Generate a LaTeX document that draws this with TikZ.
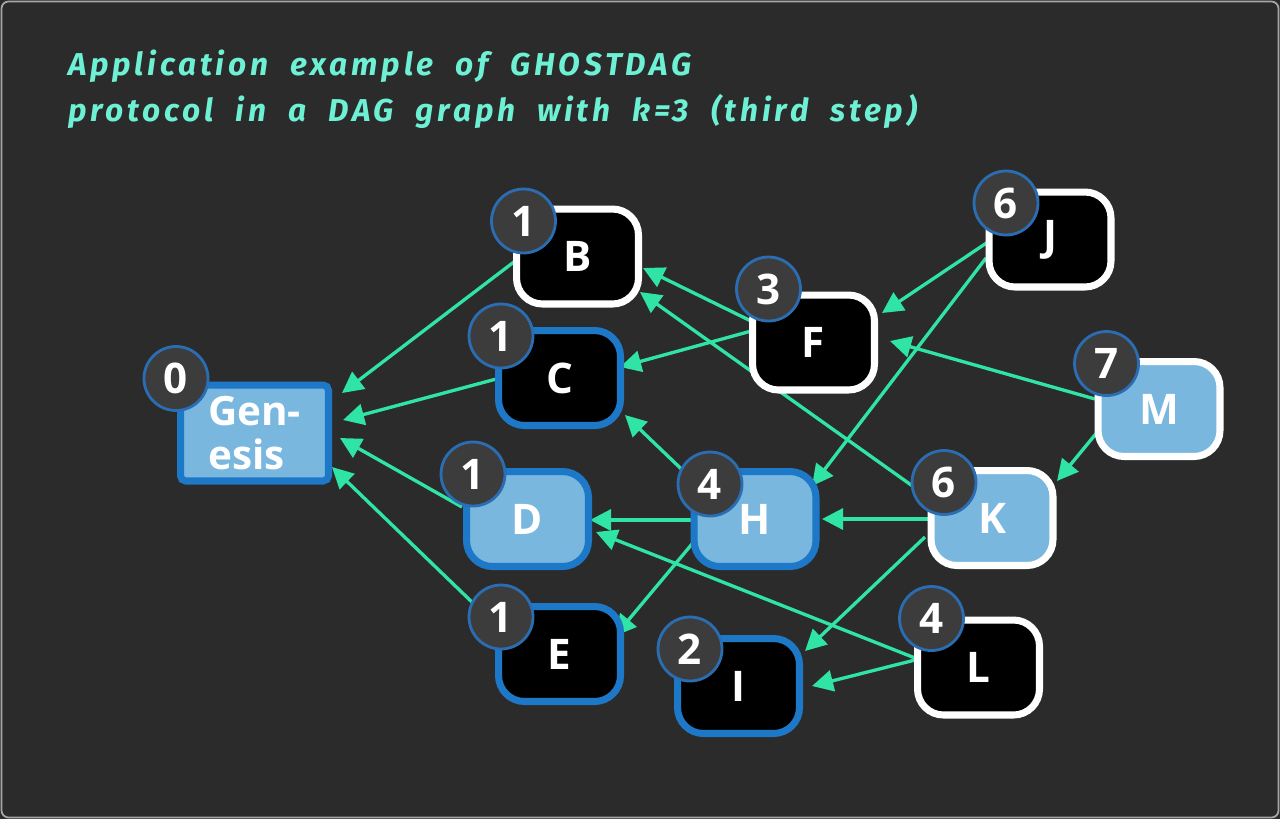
\documentclass[tikz,border=0pt]{standalone}
\usepackage{fontspec}
\setmainfont{Open Sans}
\newfontfamily\titlefont[LetterSpace=12,WordSpace=2.0]{Fira Sans}
\usetikzlibrary{calc,arrows.meta}
\definecolor{panel}{HTML}{2B2B2B}
\definecolor{mint}{HTML}{6EF0D4}
\definecolor{edgegreen}{HTML}{2FE4A4}
\definecolor{skyfill}{HTML}{79B7DF}
\definecolor{blueline}{HTML}{1E78C8}
\definecolor{badgefill}{HTML}{3C3C3C}
\definecolor{badgeline}{HTML}{2B6DB2}
\pgfdeclarelayer{bg}
\pgfdeclarelayer{edges}
\pgfsetlayers{bg,edges,main}
\tikzset{
	block/.style={draw, line width=4pt, rounded corners=0.52cm, minimum width=2.44cm, minimum height=1.9cm, text=white, font=\bfseries\fontsize{24}{27}\selectfont},
	blackwhite/.style={block, fill=black, draw=white},
	blackblue/.style={block, fill=black, draw=blueline},
	skyblue/.style={block, fill=skyfill, draw=blueline},
	skywhite/.style={block, fill=skyfill, draw=white},
	badge/.style={circle, draw=badgeline, line width=1.6pt, fill=badgefill, minimum size=1.28cm, inner sep=0pt, text=white, font=\bfseries\fontsize{24}{27}\selectfont},
	arr/.style={draw=edgegreen, line width=1.9pt, -{Triangle[length=12pt,width=12pt]}},
	headline/.style={anchor=base west, inner sep=0pt, text=mint, font=\titlefont\bfseries\itshape\fontsize{18}{21}\selectfont}
}

\begin{document}
\begin{tikzpicture}[x=0.02cm, y=-0.02cm]
			%%%%% START %%%%%
			\useasboundingbox (0, 0) rectangle (1280, 819);
			\begin{pgfonlayer}{bg}
				\fill[panel] (0, 0) rectangle (1280, 819);
				\draw[gray!70, line width=1pt, rounded corners=4pt] (1.5, 1.5) rectangle (1278.5, 817.5);
			\end{pgfonlayer}
			
			\node[headline] (title1) at (68, 75) {Application example of GHOSTDAG};
			\node[headline] (title2) at (68, 121) {protocol in a DAG graph with k=3 (third step)};
			
			\node[skyblue, rounded corners=3pt, minimum width=2.96cm, minimum height=1.92cm, align=left, font=\bfseries\fontsize{23}{25}\selectfont] (gen) at (254.5, 433) {Gen-\\esis};
			\node[blackwhite] (B) at (577.5, 256.5) {B};
			\node[blackblue] (C) at (559.5, 378) {C};
			\node[skyblue] (D) at (527.5, 519) {D};
			\node[blackblue] (E) at (559.5, 654) {E};
			\node[blackwhite] (F) at (813.5, 342.5) {F};
			\node[skyblue] (H) at (755, 519) {H};
			\node[blackblue] (I) at (738.5, 686) {I};
			\node[blackwhite] (J) at (1050, 239.5) {J};
			\node[skywhite] (K) at (992, 518) {K};
			\node[blackwhite] (L) at (978.5, 667.5) {L};
			\node[skywhite] (M) at (1159, 409) {M};
			
			\node[badge] (b0) at (176, 378.5) {0};
			\node[badge] (bB) at (523.5, 221) {1};
			\node[badge] (bC) at (501, 336) {1};
			\node[badge] (bD) at (473, 474) {1};
			\node[badge] (bE) at (501, 617) {1};
			\node[badge] (bF) at (768.5, 289) {3};
			\node[badge] (bH) at (710, 484) {4};
			\node[badge] (bI) at (690, 649) {2};
			\node[badge] (bJ) at (1006, 203) {6};
			\node[badge] (bK) at (944, 482.5) {6};
			\node[badge] (bL) at (931.5, 618.5) {4};
			\node[badge] (bM) at (1106.5, 363.5) {7};
			
			\begin{pgfonlayer}{edges}
				\draw[arr] ($(B)+(-63, 5)$) -- ($(gen)+(87.5, -40)$);
				\draw[arr] ($(C)+(-59.5, 0)$) -- ($(gen)+(88.5, -13)$);
				\draw[arr] ($(D)+(-65.5, -12)$) -- ($(gen)+(85.5, 5)$);
				\draw[arr] ($(E)+(-85.5, -50)$) -- ($(gen)+(77.5, 34)$);
				\draw[arr] ($(F)+(-60.5, -20.5)$) -- ($(B)+(65.5, 11.5)$);
				\draw[arr] ($(F)+(-58.5, -12.5)$) -- ($(C)+(60.5, -11)$);
				\draw[arr] ($(K)+(-64, -21)$) -- ($(B)+(62.5, 35.5)$);
				\draw[arr] ($(H)+(-58, -35)$) -- ($(C)+(65.5, 37)$);
				\draw[arr] ($(H)+(-61, 1)$) -- ($(D)+(62.5, 1)$);
				\draw[arr] ($(H)+(-58, 19)$) -- ($(E)+(55.5, -18)$);
				\draw[arr] ($(K)+(-64, 1)$) -- ($(H)+(67, 0)$);
				\draw[arr] ($(J)+(-62, 2.5)$) -- ($(F)+(68.5, -29.5)$);
				\draw[arr] ($(J)+(-64, 18.5)$) -- ($(H)+(57, -33)$);
				\draw[arr] ($(M)+(-64, -10)$) -- ($(F)+(76.5, -1.5)$);
				\draw[arr] ($(M)+(-60, 21)$) -- ($(K)+(65, -37)$);
				\draw[arr] ($(K)+(-67, 19)$) -- ($(I)+(66.5, -35)$);
				\draw[arr] ($(L)+(-63.5, -9.5)$) -- ($(D)+(68.5, 13)$);
				\draw[arr] ($(L)+(-63.5, -7.5)$) -- ($(I)+(73.5, 0)$);
			\end{pgfonlayer}
			%%%%% END %%%%%
\end{tikzpicture}
\end{document}
